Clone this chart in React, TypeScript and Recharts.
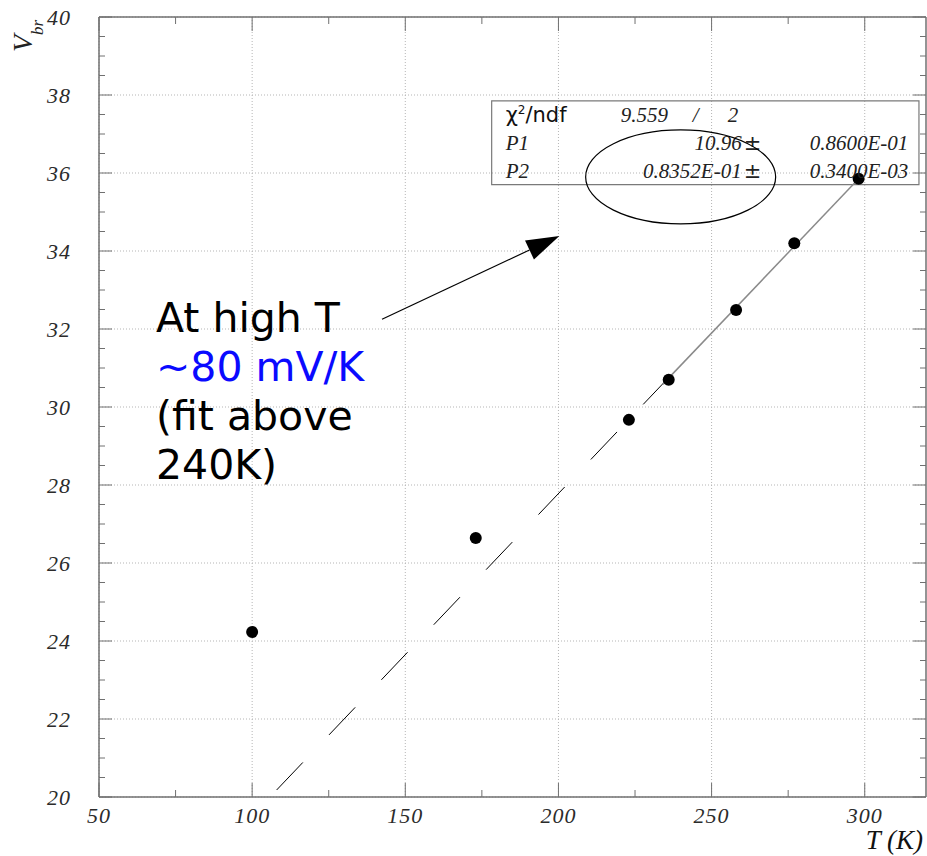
import React from 'react';
import {
  ScatterChart, Scatter, XAxis, YAxis, CartesianGrid,
  ReferenceArea, ReferenceDot, ReferenceLine,
} from 'recharts';

// measured points: temperature (K) vs breakdown voltage (V)
const temps = [100, 173, 223, 236, 258, 277, 298];
const vbr = [24.23, 26.64, 29.67, 30.7, 32.49, 34.2, 35.85];

// fit line P1 + P2*T, dashed extrapolation and solid fit range
const dashedT = [108, 238];
const dashedV = [20.18, 30.92];
const solidT = [234, 298];
const solidV = [30.58, 35.85];

const majorX = [50, 100, 150, 200, 250, 300];
const minorX = [75, 125, 175, 225, 275];
const majorY = [20, 22, 24, 26, 28, 30, 32, 34, 36, 38, 40];
const minorY = majorY.slice(0, -1).flatMap(v => [v + 0.5, v + 1, v + 1.5]);

const statRows = [
  { name: 'P1', value: '10.96', err: '0.8600E-01' },
  { name: 'P2', value: '0.8352E-01', err: '0.3400E-03' },
];
const noteLines = ['At high T', '~80 mV/K', '(fit above', '240K)'];

const points = temps.map((t, i) => ({ t, v: vbr[i] }));
const dashedFit = dashedT.map((t, i) => ({ t, v: dashedV[i] }));
const solidFit = solidT.map((t, i) => ({ t, v: solidV[i] }));

const FRAME = '#707070';
const TEXT = '#2b2b2b';
const SERIF = "'Liberation Serif', 'Times New Roman', serif";
const SANS = "'DejaVu Sans', Verdana, sans-serif";

const xTicks = [...majorX, ...minorX].sort((a, b) => a - b);
const yTicks = [...majorY, ...minorY].sort((a, b) => a - b);

function BottomTick({ x, y, payload }: any) {
  const major = majorX.includes(payload.value);
  return (
    <g>
      <line x1={x} y1={y} x2={x} y2={y - (major ? 14 : 7)} stroke={FRAME} />
      {major && (
        <text x={x} y={y + 26} textAnchor="middle" fontFamily={SERIF} fontStyle="italic"
          fontSize={22} letterSpacing={1} fill={TEXT}>{payload.value}</text>
      )}
    </g>
  );
}

function TopTick({ x, y, payload }: any) {
  const major = majorX.includes(payload.value);
  return <line x1={x} y1={y} x2={x} y2={y + (major ? 14 : 7)} stroke={FRAME} />;
}

function LeftTick({ x, y, payload }: any) {
  const major = majorY.includes(payload.value);
  return (
    <g>
      <line x1={x} y1={y} x2={x + (major ? 13 : 6)} y2={y} stroke={FRAME} />
      {major && (
        <text x={x - 28} y={y + 8} textAnchor="end" fontFamily={SERIF} fontStyle="italic"
          fontSize={22} letterSpacing={1} fill={TEXT}>{payload.value}</text>
      )}
    </g>
  );
}

function RightTick({ x, y, payload }: any) {
  const major = majorY.includes(payload.value);
  return <line x1={x} y1={y} x2={x - (major ? 13 : 6)} y2={y} stroke={FRAME} />;
}

const noDot = () => <g />;

function Dot({ cx, cy }: any) {
  return <circle cx={cx} cy={cy} r={6} fill="#000" />;
}

function StatsText({ cx, cy }: any) {
  const num = { fontFamily: SERIF, fontStyle: 'italic', fontSize: 21, fill: '#222' } as const;
  return (
    <g transform={`translate(${cx},${cy})`}>
      <text x={14} y={21} fontFamily={SANS} fontSize={21} fill="#111">
        χ<tspan fontSize={12} dy={-8}>2</tspan><tspan dy={8}>/ndf</tspan>
      </text>
      <text x={129} y={21} {...num}>9.559</text>
      <text x={201} y={21} {...num}>/</text>
      <text x={236} y={21} {...num}>2</text>
      {statRows.map((r, i) => (
        <g key={r.name}>
          <text x={14} y={49 + i * 28.5} {...num}>{r.name}</text>
          <text x={250} y={49 + i * 28.5} textAnchor="end" {...num}>{r.value}</text>
          <text x={252} y={49 + i * 28.5} fontFamily={SANS} fontSize={21} fill="#222">±</text>
          <text x={318} y={49 + i * 28.5} {...num}>{r.err}</text>
        </g>
      ))}
    </g>
  );
}

function Ring({ cx, cy }: any) {
  return <ellipse cx={cx} cy={cy} rx={95} ry={47} fill="none" stroke="#000" strokeWidth={1.2} />;
}

function Arrow({ x1, y1, x2, y2 }: any) {
  const dx = x2 - x1;
  const dy = y2 - y1;
  const len = Math.hypot(dx, dy);
  const ux = dx / len;
  const uy = dy / len;
  const bx = x2 - ux * 33;
  const by = y2 - uy * 33;
  const w = 10.5;
  return (
    <g>
      <line x1={x1} y1={y1} x2={bx} y2={by} stroke="#000" strokeWidth={1.2} />
      <polygon points={`${x2},${y2} ${bx - uy * w},${by + ux * w} ${bx + uy * w},${by - ux * w}`} fill="#000" />
    </g>
  );
}

function Note({ cx, cy }: any) {
  return (
    <g>
      {noteLines.map((s, i) => (
        <text key={i} x={cx} y={cy + i * 49} fontFamily={SANS} fontSize={41}
          fill={i === 1 ? '#0a0aff' : '#000'}>{s}</text>
      ))}
    </g>
  );
}

function YTitle({ cx, cy }: any) {
  const x = cx - 67;
  const y = cy + 35;
  return (
    <text transform={`rotate(-90 ${x} ${y})`} x={x} y={y} fontFamily={SERIF} fontStyle="italic"
      fontSize={28} fill="#222">V<tspan fontSize={17} dy={11}>br</tspan></text>
  );
}

function XTitle({ cx, cy }: any) {
  return (
    <text x={cx - 3} y={cy + 52} textAnchor="end" fontFamily={SERIF} fontStyle="italic"
      fontSize={27} fill="#111">T (K)</text>
  );
}

export default function App() {
  return (
    <div style={{ position: 'absolute', left: 0, top: 0, background: '#fff' }}>
      <ScatterChart width={927} height={856} margin={{ top: 16, right: 0, bottom: 58, left: 98 }}>
        <CartesianGrid xAxisId="b" yAxisId="l" verticalValues={majorX} horizontalValues={majorY}
          stroke="#b5b5b5" strokeDasharray="1 2" />
        <XAxis xAxisId="b" type="number" dataKey="t" domain={[50, 320]} allowDataOverflow ticks={xTicks}
          interval={0} height={1} tickSize={0} tickMargin={0} tickLine={false}
          axisLine={{ stroke: FRAME, strokeWidth: 1.5 }} tick={<BottomTick />} />
        <XAxis xAxisId="t" orientation="top" type="number" dataKey="t" domain={[50, 320]} allowDataOverflow
          ticks={xTicks} interval={0} height={1} tickSize={0} tickMargin={0} tickLine={false}
          axisLine={{ stroke: FRAME, strokeWidth: 1.5 }} tick={<TopTick />} />
        <YAxis yAxisId="l" type="number" dataKey="v" domain={[20, 40]} allowDataOverflow ticks={yTicks}
          interval={0} width={1} tickSize={0} tickMargin={0} tickLine={false}
          axisLine={{ stroke: FRAME, strokeWidth: 1.5 }} tick={<LeftTick />} />
        <YAxis yAxisId="r" orientation="right" type="number" dataKey="v" domain={[20, 40]} allowDataOverflow
          ticks={yTicks} interval={0} width={1} tickSize={0} tickMargin={0} tickLine={false}
          axisLine={{ stroke: FRAME, strokeWidth: 1.5 }} tick={<RightTick />} />

        <ReferenceArea xAxisId="b" yAxisId="l" x1={178.2} x2={317.7} y1={35.7} y2={37.85}
          fill="none" stroke="#7a7a7a" strokeWidth={1.2} ifOverflow="visible" />

        <Scatter xAxisId="t" yAxisId="r" data={points} shape={noDot} isAnimationActive={false} />
        <Scatter xAxisId="b" yAxisId="l" data={dashedFit} shape={noDot} isAnimationActive={false}
          line={{ stroke: '#000', strokeWidth: 1, strokeDasharray: '38 38' }} />
        <Scatter xAxisId="b" yAxisId="l" data={solidFit} shape={noDot} isAnimationActive={false}
          line={{ stroke: '#8a8a8a', strokeWidth: 1.5 }} />
        <Scatter xAxisId="b" yAxisId="l" data={points} shape={<Dot />} isAnimationActive={false} />

        <ReferenceDot xAxisId="b" yAxisId="l" x={178.2} y={37.85} shape={<StatsText />} ifOverflow="visible" />
        <ReferenceDot xAxisId="b" yAxisId="l" x={239.9} y={35.9} shape={<Ring />} ifOverflow="visible" />
        <ReferenceLine xAxisId="b" yAxisId="l" segment={[{ x: 142.4, y: 32.25 }, { x: 200.3, y: 34.385 }]}
          shape={<Arrow />} ifOverflow="visible" />
        <ReferenceDot xAxisId="b" yAxisId="l" x={68.6} y={31.93} shape={<Note />} ifOverflow="visible" />
        <ReferenceDot xAxisId="b" yAxisId="l" x={50} y={40} shape={<YTitle />} ifOverflow="visible" />
        <ReferenceDot xAxisId="b" yAxisId="l" x={320} y={20} shape={<XTitle />} ifOverflow="visible" />
      </ScatterChart>
    </div>
  );
}
